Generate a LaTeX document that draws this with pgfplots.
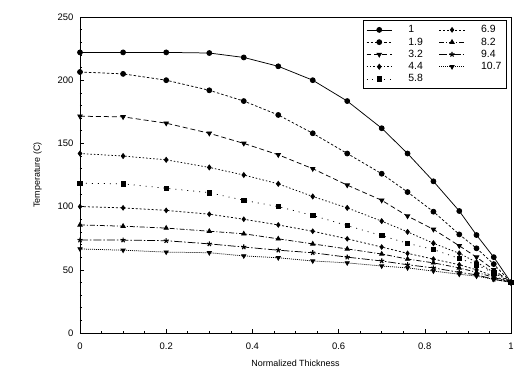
\documentclass[border=0pt]{standalone}
\usepackage{fontspec}
\setmainfont{Liberation Sans}
\usepackage{pgfplots}
\pgfplotsset{compat=1.18}
\begin{document}
\begin{tikzpicture}
\begin{axis}[
  name=ax,
  scale only axis,
  width=431bp, height=316bp,
  xmin=0, xmax=1, ymin=0, ymax=250,
  xtick={0,0.2,0.4,0.6,0.8,1},
  ytick={0,50,100,150,200,250},
  minor x tick num=3,
  minor y tick num=4,
  tick align=inside,
  xtick pos=bottom, ytick pos=left,
  major tick length=4bp, minor tick length=2.5bp,
  tick style={black, line width=0.6pt},
  axis line style={line width=0.9pt},
  /pgf/number format/assume math mode=true,
  ticklabel style={font=\fontsize{9.5}{11}\selectfont},
  xticklabel style={yshift=-6bp},
  yticklabel style={xshift=-3bp},
  label style={font=\fontsize{9}{11}\selectfont},
  xlabel={Normalized Thickness},
  ylabel={Temperature (C)},
  ylabel style={yshift=9bp},
  xlabel style={yshift=-4bp},
  legend columns=2,
  legend image code/.code={\draw[mark repeat=2,mark phase=2] plot coordinates {(0cm,0cm)(0.45cm,0cm)(0.9cm,0cm)};},
  legend style={at={(1,1)}, anchor=north east, xshift=-4bp, yshift=-3bp, draw=black, line width=1pt,
    font=\fontsize{10.5}{11}\selectfont, row sep=-0.5pt, column sep=14bp,
    inner xsep=3pt, inner ysep=3pt, nodes={inner xsep=2pt}},
  legend cell align=left,
  every axis plot/.append style={black, line width=0.75pt},
]
\addplot[solid, mark=*, mark size=2.5pt] coordinates {
(0,222)(0.1,222)(0.2,222)(0.3,221.5)(0.38,218)(0.46,211)(0.54,200)(0.62,183.5)(0.70,162)(0.76,142)(0.82,120)(0.88,96.5)(0.92,77.5)(0.96,60)(1,40)};
\addlegendentry{1}
\addplot[dash pattern=on 2pt off 2pt, mark=diamond*, mark size=2.3pt, mark options={solid}] coordinates {
(0,100)(0.1,99)(0.2,97)(0.3,94)(0.38,90)(0.46,85.5)(0.54,80.5)(0.62,74.5)(0.70,68)(0.76,63)(0.82,58.5)(0.88,54)(0.92,50)(0.96,45)(1,40)};
\addlegendentry{6.9}
\addplot[dash pattern=on 2.5pt off 2pt, mark=*, mark size=2.5pt, mark options={solid}] coordinates {
(0,206.5)(0.1,205)(0.2,200)(0.3,192)(0.38,183.5)(0.46,172.5)(0.54,158)(0.62,142)(0.70,126)(0.76,111.5)(0.82,96)(0.88,78)(0.92,67)(0.96,54.5)(1,40)};
\addlegendentry{1.9}
\addplot[dash pattern=on 5pt off 2pt on 1pt off 2pt, mark=triangle*, mark size=2.5pt, mark options={solid}] coordinates {
(0,85.5)(0.1,84.5)(0.2,83)(0.3,80.5)(0.38,78.5)(0.46,74.5)(0.54,70.5)(0.62,66.5)(0.70,62.5)(0.76,58.5)(0.82,55.5)(0.88,51.5)(0.92,48)(0.96,44)(1,40)};
\addlegendentry{8.2}
\addplot[dash pattern=on 5pt off 3pt, mark=triangle*, mark size=2.6pt, mark options={solid, rotate=180}] coordinates {
(0,171.5)(0.1,171)(0.2,166)(0.3,158)(0.38,150)(0.46,141)(0.54,130)(0.62,117)(0.70,105)(0.76,92.5)(0.82,82)(0.88,69)(0.92,60)(0.96,50)(1,40)};
\addlegendentry{3.2}
\addplot[dash pattern=on 8pt off 2pt on 1.5pt off 2pt, mark=star, mark size=2.6pt, mark options={solid, line width=1.1pt}] coordinates {
(0,73.5)(0.1,73.5)(0.2,73)(0.3,70.5)(0.38,68)(0.46,65.5)(0.54,63.5)(0.62,60)(0.70,57)(0.76,54)(0.82,51.5)(0.88,48)(0.92,46)(0.96,42.5)(1,40)};
\addlegendentry{9.4}
\addplot[dash pattern=on 1.5pt off 2pt, mark=diamond*, mark size=2.5pt, mark options={solid}] coordinates {
(0,142)(0.1,140)(0.2,137)(0.3,131)(0.38,125)(0.46,118)(0.54,108)(0.62,99)(0.70,88.5)(0.76,80)(0.82,71)(0.88,63)(0.92,56)(0.96,48)(1,40)};
\addlegendentry{4.4}
\addplot[dash pattern=on 1pt off 1pt, mark=triangle*, mark size=2.4pt, mark options={solid, rotate=180}] coordinates {
(0,66.5)(0.1,65.5)(0.2,64)(0.3,63.5)(0.38,61)(0.46,59.5)(0.54,57)(0.62,55.5)(0.70,53)(0.76,51.5)(0.82,49)(0.88,46.5)(0.92,45)(0.96,42.5)(1,40)};
\addlegendentry{10.7}
\addplot[dash pattern=on 1pt off 5pt, mark=square*, mark size=2.2pt, mark options={solid}] coordinates {
(0,118.5)(0.1,118)(0.2,114.5)(0.3,111)(0.38,105)(0.46,100)(0.54,93)(0.62,85)(0.70,77)(0.76,71)(0.82,66)(0.88,59)(0.92,54)(0.96,47.5)(1,40)};
\addlegendentry{5.8}
\end{axis}
\pgfresetboundingbox
\path[use as bounding box] ([shift={(-80bp,-55bp)}]ax.south west) rectangle ([shift={(8bp,17bp)}]ax.north east);
\end{tikzpicture}
\end{document}
